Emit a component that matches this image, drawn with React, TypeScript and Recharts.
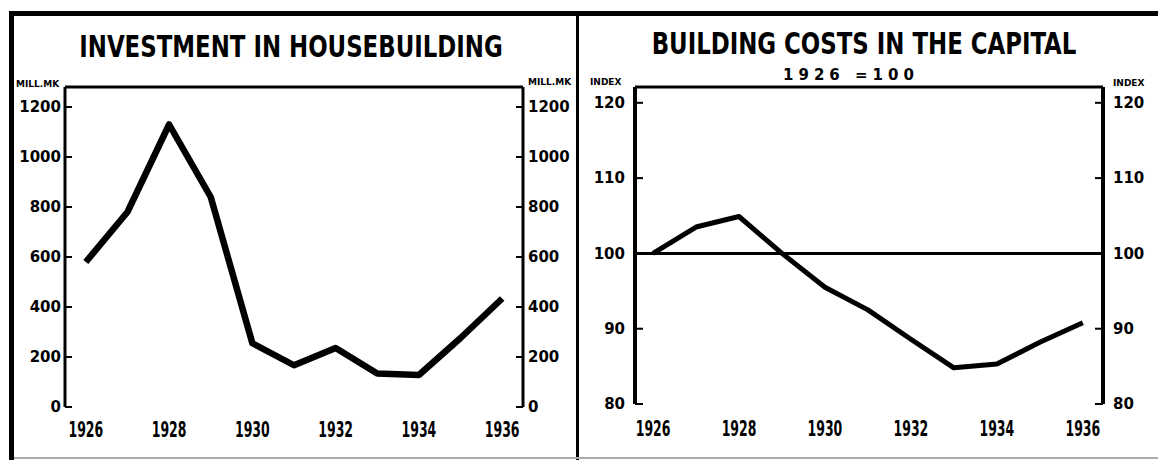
import React from 'react';
import { LineChart, Line, XAxis, YAxis, ReferenceLine } from 'recharts';

const years = [1926, 1927, 1928, 1929, 1930, 1931, 1932, 1933, 1934, 1935, 1936];
const investment = [580, 780, 1130, 840, 255, 167, 236, 134, 128, 276, 434];
const costs = [100, 103.5, 104.9, 100, 95.5, 92.5, 88.6, 84.8, 85.3, 88.2, 90.8];

const halfYearTicks = [1926.5, 1927.5, 1928.5, 1929.5, 1930.5, 1931.5, 1932.5, 1933.5, 1934.5, 1935.5];
const yearLabels = [1926, 1928, 1930, 1932, 1934, 1936];
const investTicks = [0, 200, 400, 600, 800, 1000, 1200];
const costTicks = [80, 90, 100, 110, 120];

const investData = years.map((year, i) => ({ year, value: investment[i] }));
const costData = years.map((year, i) => ({ year, value: costs[i] }));

const NARROW = "'Liberation Sans Narrow', 'DejaVu Sans Condensed', sans-serif";
const ROUND = "'DejaVu Sans', sans-serif";

const yTick = { fill: '#000', fontFamily: ROUND, fontWeight: 700, fontSize: 15 };

const NarrowTick = (props: any) => {
  const { x, y, payload } = props;
  return (
    <g transform={`translate(${x},${y})`}>
      <text
        x={0}
        y={0}
        dy="0.71em"
        textAnchor="middle"
        fill="#000"
        fontFamily={NARROW}
        fontWeight={700}
        fontSize={21}
        transform="scale(0.66,1)"
      >
        {payload.value}
      </text>
    </g>
  );
};

const abs = (s: React.CSSProperties): React.CSSProperties => ({ position: 'absolute', ...s });

const unitStyle: React.CSSProperties = {
  fontFamily: ROUND,
  fontWeight: 700,
  fontSize: 9,
  lineHeight: '9px',
  color: '#000',
  whiteSpace: 'nowrap',
};

const titleStyle: React.CSSProperties = {
  textAlign: 'center',
  fontFamily: NARROW,
  fontWeight: 700,
  fontSize: 31,
  lineHeight: '31px',
  color: '#000',
  whiteSpace: 'nowrap',
  transform: 'scaleX(0.82)',
  transformOrigin: 'center',
};

export default function App() {
  return (
    <div style={abs({ left: 0, top: 0, width: 1158, height: 460, background: '#fff', overflow: 'hidden' })}>
      {/* frame */}
      <div style={abs({ left: 9, top: 11, width: 1149, height: 5, background: '#000' })} />
      <div style={abs({ left: 9, top: 11, width: 5, height: 449, background: '#000' })} />
      <div style={abs({ left: 576, top: 11, width: 3, height: 449, background: '#000' })} />
      <div style={abs({ left: 14, top: 457, width: 1144, height: 2, background: '#aaa' })} />

      {/* titles */}
      <div style={abs({ ...titleStyle, left: 0, top: 31, width: 582 })}>INVESTMENT IN HOUSEBUILDING</div>
      <div style={abs({ ...titleStyle, left: 578, top: 28, width: 572 })}>BUILDING COSTS IN THE CAPITAL</div>
      <div
        style={abs({
          left: 701, top: 68, width: 300, textAlign: 'center', fontFamily: ROUND, fontWeight: 700,
          fontSize: 15, lineHeight: '15px', letterSpacing: 5, color: '#000', whiteSpace: 'nowrap',
        })}
      >
        1926 =100
      </div>

      {/* unit labels */}
      <div style={abs({ ...unitStyle, left: 16, top: 80 })}>MILL.MK</div>
      <div style={abs({ ...unitStyle, left: 528, top: 78 })}>MILL.MK</div>
      <div style={abs({ ...unitStyle, left: 590, top: 78 })}>INDEX</div>
      <div style={abs({ ...unitStyle, left: 1113, top: 79 })}>INDEX</div>

      {/* left chart */}
      <div style={abs({ left: 0, top: 0 })}>
        <LineChart width={578} height={460} data={investData} margin={{ top: 87, right: 5, bottom: 23, left: 15 }}>
          <XAxis
            xAxisId="t"
            type="number"
            dataKey="year"
            domain={[1925.5, 1936.5]}
            ticks={halfYearTicks}
            tickFormatter={() => ''}
            tickSize={-7}
            height={0}
            axisLine={{ stroke: '#000', strokeWidth: 3 }}
            tickLine={{ stroke: '#000', strokeWidth: 2 }}
            allowDataOverflow
          />
          <XAxis
            xAxisId="l"
            type="number"
            dataKey="year"
            domain={[1925.5, 1936.5]}
            ticks={yearLabels}
            axisLine={false}
            tickLine={false}
            tickSize={0}
            tickMargin={15}
            height={30}
            tick={<NarrowTick />}
            allowDataOverflow
          />
          <YAxis
            yAxisId="l"
            orientation="left"
            domain={[0, 1280]}
            ticks={investTicks}
            width={50}
            tickSize={-7}
            tickMargin={11}
            axisLine={{ stroke: '#000', strokeWidth: 3 }}
            tickLine={{ stroke: '#000', strokeWidth: 2 }}
            tick={yTick}
            allowDataOverflow
          />
          <YAxis
            yAxisId="r"
            orientation="right"
            domain={[0, 1280]}
            ticks={investTicks}
            width={50}
            tickSize={-7}
            tickMargin={12}
            axisLine={{ stroke: '#000', strokeWidth: 3 }}
            tickLine={{ stroke: '#000', strokeWidth: 2 }}
            tick={{ ...yTick, textAnchor: 'start' }}
            allowDataOverflow
          />
          <ReferenceLine xAxisId="t" yAxisId="l" y={1280} stroke="#000" strokeWidth={3} />
          <Line
            xAxisId="t"
            yAxisId="l"
            type="linear"
            dataKey="value"
            stroke="#000"
            strokeWidth={6.5}
            dot={false}
            activeDot={false}
            strokeLinejoin="round"
            isAnimationActive={false}
          />
        </LineChart>
      </div>

      {/* right chart */}
      <div style={abs({ left: 578, top: 0 })}>
        <LineChart width={580} height={460} data={costData} margin={{ top: 87, right: 5, bottom: 26, left: 7 }}>
          <XAxis
            xAxisId="t"
            type="number"
            dataKey="year"
            domain={[1925.58, 1936.47]}
            ticks={halfYearTicks}
            tickFormatter={() => ''}
            tickSize={-7}
            height={0}
            axisLine={{ stroke: '#000', strokeWidth: 2.5 }}
            tickLine={{ stroke: '#000', strokeWidth: 2 }}
            allowDataOverflow
          />
          <XAxis
            xAxisId="l"
            type="number"
            dataKey="year"
            domain={[1925.58, 1936.47]}
            ticks={yearLabels}
            axisLine={false}
            tickLine={false}
            tickSize={0}
            tickMargin={17}
            height={30}
            tick={<NarrowTick />}
            allowDataOverflow
          />
          <YAxis
            yAxisId="l"
            orientation="left"
            domain={[80, 122.1]}
            ticks={costTicks}
            width={50}
            tickSize={-8}
            tickMargin={18}
            axisLine={{ stroke: '#000', strokeWidth: 4 }}
            tickLine={{ stroke: '#000', strokeWidth: 2 }}
            tick={yTick}
            allowDataOverflow
          />
          <YAxis
            yAxisId="r"
            orientation="right"
            domain={[80, 122.1]}
            ticks={costTicks}
            width={50}
            tickSize={-8}
            tickMargin={18}
            axisLine={{ stroke: '#000', strokeWidth: 4 }}
            tickLine={{ stroke: '#000', strokeWidth: 2 }}
            tick={{ ...yTick, textAnchor: 'start' }}
            allowDataOverflow
          />
          <ReferenceLine xAxisId="t" yAxisId="l" y={122.1} stroke="#000" strokeWidth={3} />
          <ReferenceLine xAxisId="t" yAxisId="l" y={100} stroke="#000" strokeWidth={3} />
          <Line
            xAxisId="t"
            yAxisId="l"
            type="linear"
            dataKey="value"
            stroke="#000"
            strokeWidth={5}
            dot={false}
            activeDot={false}
            strokeLinejoin="round"
            isAnimationActive={false}
          />
        </LineChart>
      </div>
    </div>
  );
}
